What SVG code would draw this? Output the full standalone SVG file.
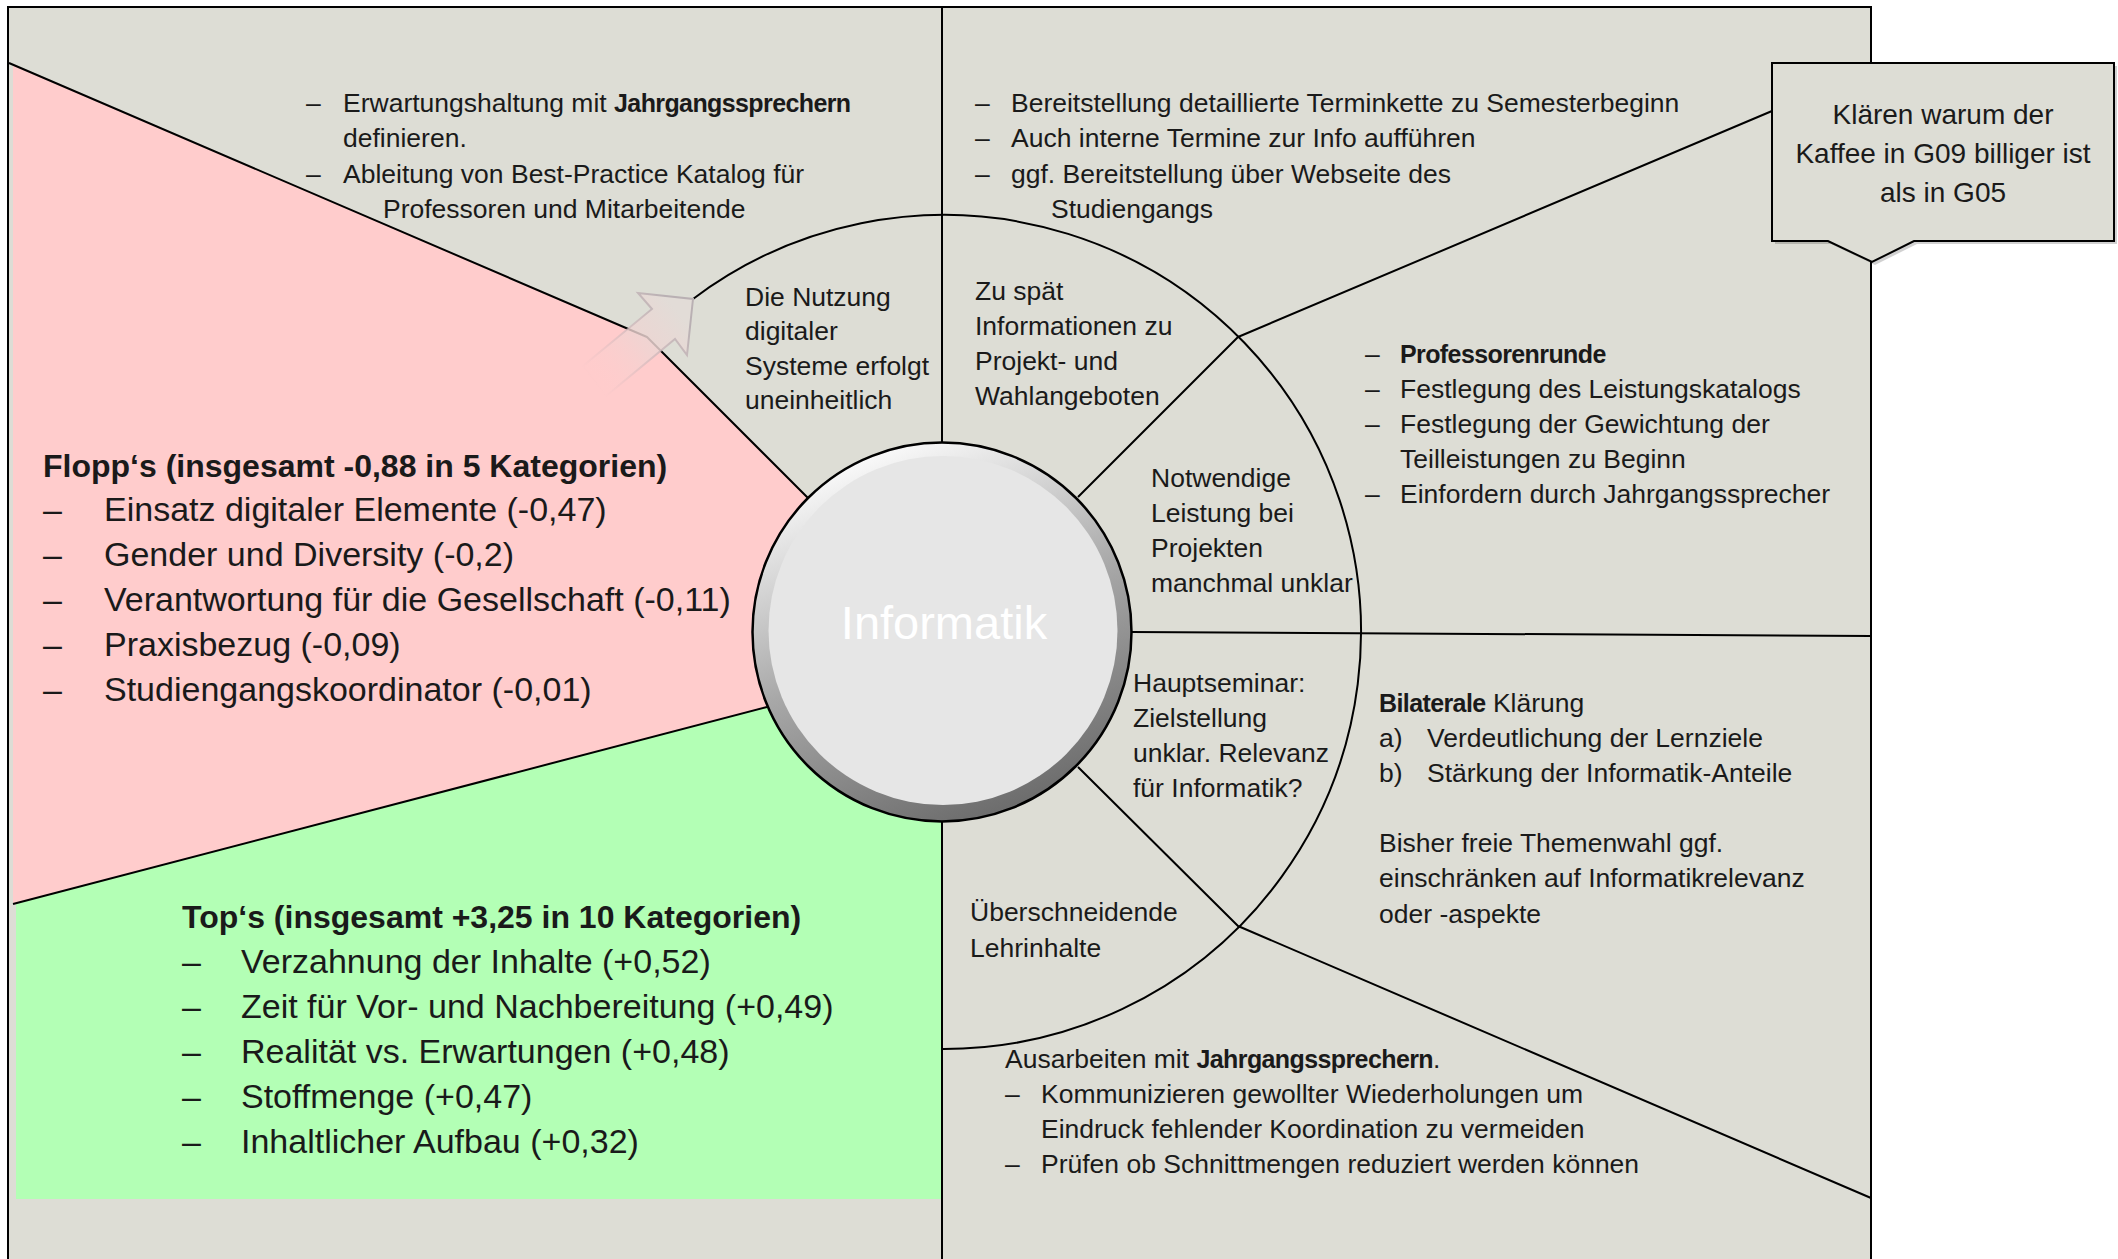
<svg xmlns="http://www.w3.org/2000/svg" width="2118" height="1259" viewBox="0 0 2118 1259">
<style>
  .t { font-family: "Liberation Sans", Arial, sans-serif; fill: #1a1a1a; }
  .m { font-size: 26.5px; }
  .l { font-size: 34px; }
  .h { font-size: 32px; font-weight: bold; }
  .b { font-weight: bold; font-size: 25px; letter-spacing: -0.6px; }
  .ln { fill: none; stroke: #000; stroke-width: 2; stroke-linejoin: round; }
</style>
<defs>
  <linearGradient id="ring" x1="0.3" y1="0" x2="0.7" y2="1">
    <stop offset="0" stop-color="#ffffff"/>
    <stop offset="0.5" stop-color="#a8a8a8"/>
    <stop offset="1" stop-color="#686868"/>
  </linearGradient>
  <linearGradient id="arrFill" gradientUnits="userSpaceOnUse" x1="598" y1="388" x2="683" y2="318">
    <stop offset="0" stop-color="#ffcccc" stop-opacity="0"/>
    <stop offset="0.55" stop-color="#efd4d2" stop-opacity="0.8"/>
    <stop offset="1" stop-color="#e2dcd7" stop-opacity="1"/>
  </linearGradient>
  <linearGradient id="arrStroke" gradientUnits="userSpaceOnUse" x1="598" y1="388" x2="683" y2="318">
    <stop offset="0" stop-color="#d8b8bc" stop-opacity="0"/>
    <stop offset="0.6" stop-color="#cbb6b9" stop-opacity="0.7"/>
    <stop offset="1" stop-color="#b9b0b3" stop-opacity="1"/>
  </linearGradient>
</defs>

<g id="background">
  <rect x="0" y="0" width="2118" height="1259" fill="#ffffff"/>
  <rect x="8" y="7" width="1863" height="1262" fill="#ddddd5" stroke="#000" stroke-width="2"/>
  <polygon id="flop-area" points="13,65 647,337 942,632 767,707 13,904" fill="#ffcccc"/>
  <polygon id="top-area" points="16,903 767,707 942,632 942,1199 16,1199" fill="#b3ffb5"/>
</g>

<g id="connectors">
  <polyline class="ln" points="9,63 647,337 808,498"/>
  <line class="ln" x1="942" y1="7" x2="942" y2="443"/>
  <polyline class="ln" points="1078,497 1238,337 1772,111"/>
  <line class="ln" x1="1131" y1="632" x2="1871" y2="636" stroke-width="2.5"/>
  <polyline class="ln" points="1078,767 1238,926 1871,1198"/>
  <line class="ln" x1="942" y1="821" x2="942" y2="1259"/>
  <line class="ln" x1="767" y1="707" x2="13" y2="904"/>
  <path class="ln" d="M 693,299 A 417 417 0 1 1 942,1049"/>
  <polygon id="arrow" points="693,299 687,355 675,339 606,396 583,366 652,309 638,293" fill="url(#arrFill)" stroke="url(#arrStroke)" stroke-width="2" stroke-linejoin="miter"/>
</g>

<g id="node-informatik">
  <circle cx="942" cy="632" r="189.5" fill="url(#ring)" stroke="#000" stroke-width="2.5"/>
  <circle cx="943" cy="630.5" r="174.5" fill="#e6e6e6"/>
  <text x="944" y="639" text-anchor="middle" font-family="'Liberation Sans', Arial, sans-serif" font-size="47" fill="#ffffff">Informatik</text>
</g>

<g id="node-flopps">
  <text class="t h" x="43" y="477">Flopp‘s (insgesamt -0,88 in 5 Kategorien)</text>
  <text class="t l" x="43" y="521">–</text><text class="t l" x="104" y="521">Einsatz digitaler Elemente (-0,47)</text>
  <text class="t l" x="43" y="566">–</text><text class="t l" x="104" y="566">Gender und Diversity (-0,2)</text>
  <text class="t l" x="43" y="611">–</text><text class="t l" x="104" y="611">Verantwortung für die Gesellschaft (-0,11)</text>
  <text class="t l" x="43" y="656">–</text><text class="t l" x="104" y="656">Praxisbezug (-0,09)</text>
  <text class="t l" x="43" y="701">–</text><text class="t l" x="104" y="701">Studiengangskoordinator (-0,01)</text>
</g>

<g id="node-tops">
  <text class="t h" x="182" y="928">Top‘s (insgesamt +3,25 in 10 Kategorien)</text>
  <text class="t l" x="182" y="973">–</text><text class="t l" x="241" y="973">Verzahnung der Inhalte (+0,52)</text>
  <text class="t l" x="182" y="1018">–</text><text class="t l" x="241" y="1018">Zeit für Vor- und Nachbereitung (+0,49)</text>
  <text class="t l" x="182" y="1063">–</text><text class="t l" x="241" y="1063">Realität vs. Erwartungen (+0,48)</text>
  <text class="t l" x="182" y="1108">–</text><text class="t l" x="241" y="1108">Stoffmenge (+0,47)</text>
  <text class="t l" x="182" y="1153">–</text><text class="t l" x="241" y="1153">Inhaltlicher Aufbau (+0,32)</text>
</g>

<g id="node-digital">
  <text class="t m" x="306" y="112">–</text>
  <text class="t m" x="343" y="112">Erwartungshaltung mit <tspan class="b">Jahrgangssprechern</tspan></text>
  <text class="t m" x="343" y="147">definieren.</text>
  <text class="t m" x="306" y="183">–</text>
  <text class="t m" x="343" y="183">Ableitung von Best-Practice Katalog für</text>
  <text class="t m" x="383" y="218">Professoren und Mitarbeitende</text>
  <text class="t m" x="745" y="306">Die Nutzung</text>
  <text class="t m" x="745" y="340">digitaler</text>
  <text class="t m" x="745" y="375">Systeme erfolgt</text>
  <text class="t m" x="745" y="409">uneinheitlich</text>
</g>

<g id="node-termine">
  <text class="t m" x="975" y="112">–</text>
  <text class="t m" x="1011" y="112">Bereitstellung detaillierte Terminkette zu Semesterbeginn</text>
  <text class="t m" x="975" y="147">–</text>
  <text class="t m" x="1011" y="147">Auch interne Termine zur Info aufführen</text>
  <text class="t m" x="975" y="183">–</text>
  <text class="t m" x="1011" y="183">ggf. Bereitstellung über Webseite des</text>
  <text class="t m" x="1051" y="218">Studiengangs</text>
  <text class="t m" x="975" y="300">Zu spät</text>
  <text class="t m" x="975" y="335">Informationen zu</text>
  <text class="t m" x="975" y="370">Projekt- und</text>
  <text class="t m" x="975" y="405">Wahlangeboten</text>
</g>

<g id="node-leistung">
  <text class="t m" x="1365" y="363">–</text>
  <text class="t m" x="1400" y="363"><tspan class="b">Professorenrunde</tspan></text>
  <text class="t m" x="1365" y="398">–</text>
  <text class="t m" x="1400" y="398">Festlegung des Leistungskatalogs</text>
  <text class="t m" x="1365" y="433">–</text>
  <text class="t m" x="1400" y="433">Festlegung der Gewichtung der</text>
  <text class="t m" x="1400" y="468">Teilleistungen zu Beginn</text>
  <text class="t m" x="1365" y="503">–</text>
  <text class="t m" x="1400" y="503">Einfordern durch Jahrgangssprecher</text>
  <text class="t m" x="1151" y="487">Notwendige</text>
  <text class="t m" x="1151" y="522">Leistung bei</text>
  <text class="t m" x="1151" y="557">Projekten</text>
  <text class="t m" x="1151" y="592">manchmal unklar</text>
</g>

<g id="node-hauptseminar">
  <text class="t m" x="1133" y="692">Hauptseminar:</text>
  <text class="t m" x="1133" y="727">Zielstellung</text>
  <text class="t m" x="1133" y="762">unklar. Relevanz</text>
  <text class="t m" x="1133" y="797">für Informatik?</text>
  <text class="t m" x="1379" y="712"><tspan class="b">Bilaterale</tspan> Klärung</text>
  <text class="t m" x="1379" y="747">a)</text>
  <text class="t m" x="1427" y="747">Verdeutlichung der Lernziele</text>
  <text class="t m" x="1379" y="782">b)</text>
  <text class="t m" x="1427" y="782">Stärkung der Informatik-Anteile</text>
  <text class="t m" x="1379" y="852">Bisher freie Themenwahl ggf.</text>
  <text class="t m" x="1379" y="887">einschränken auf Informatikrelevanz</text>
  <text class="t m" x="1379" y="923">oder -aspekte</text>
</g>

<g id="node-lehrinhalte">
  <text class="t m" x="970" y="921">Überschneidende</text>
  <text class="t m" x="970" y="957">Lehrinhalte</text>
  <text class="t m" x="1005" y="1068">Ausarbeiten mit <tspan class="b">Jahrgangssprechern</tspan>.</text>
  <text class="t m" x="1005" y="1103">–</text>
  <text class="t m" x="1041" y="1103">Kommunizieren gewollter Wiederholungen um</text>
  <text class="t m" x="1041" y="1138">Eindruck fehlender Koordination zu vermeiden</text>
  <text class="t m" x="1005" y="1173">–</text>
  <text class="t m" x="1041" y="1173">Prüfen ob Schnittmengen reduziert werden können</text>
</g>

<g id="node-callout">
  <path d="M 1775,66 H 2117 V 244 H 1917 L 1875,265 L 1831,244 H 1775 Z" fill="#000" fill-opacity="0.18"/>
  <path d="M 1772,63 H 2114 V 241 H 1914 L 1872,262 L 1828,241 H 1772 Z" fill="#ddddd5" stroke="#000" stroke-width="2" stroke-linejoin="miter"/>
  <text class="t" x="1943" y="124" font-size="28" text-anchor="middle" fill="#262626">Klären warum der</text>
  <text class="t" x="1943" y="163" font-size="28" text-anchor="middle" fill="#262626">Kaffee in G09 billiger ist</text>
  <text class="t" x="1943" y="202" font-size="28" text-anchor="middle" fill="#262626">als in G05</text>
</g>
</svg>
